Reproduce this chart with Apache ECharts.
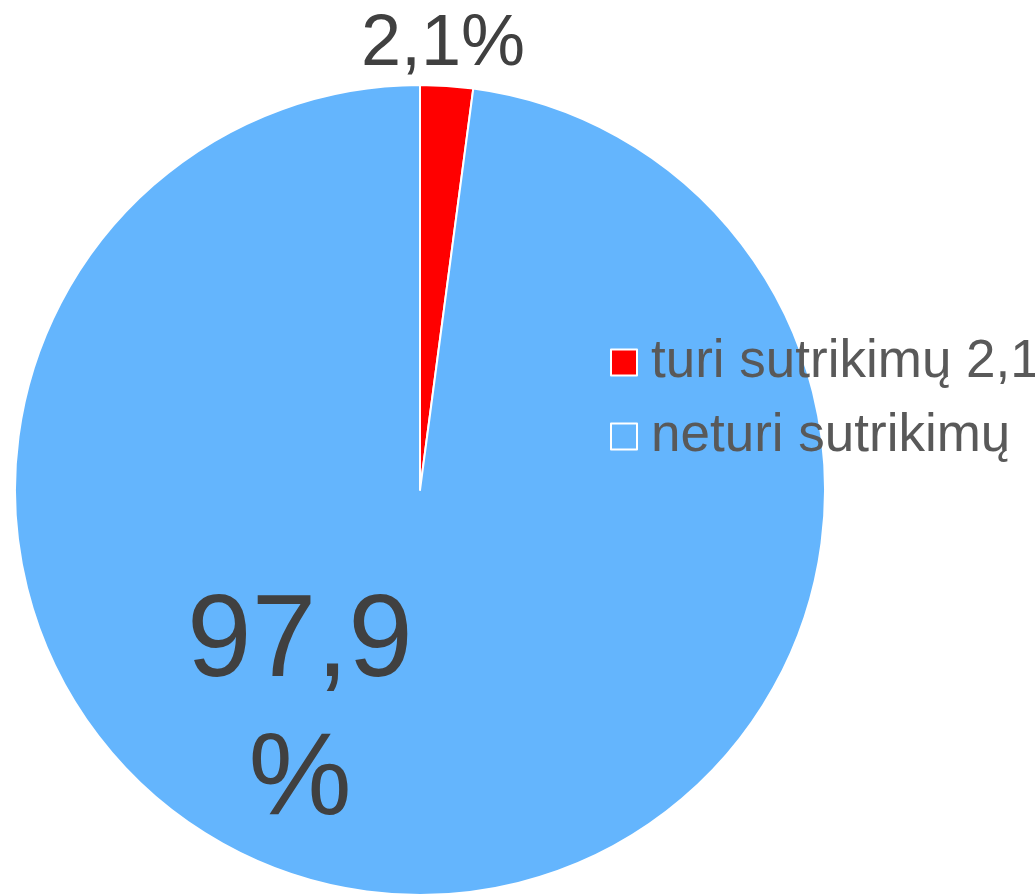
<!DOCTYPE html>
<html><head><meta charset="utf-8">
<script src="https://cdn.jsdelivr.net/npm/echarts@6/dist/echarts.min.js"></script>
<style>html,body{margin:0;padding:0;background:#fff;}#c{width:1035px;height:895px;}</style>
</head><body><div id="c"></div>
<script>
const categories = ["turi sutrikimų 2,1%", "neturi sutrikimų"];
const values = [2.1, 97.9];
const labelTexts = ["2,1%", "97,9\n%"];
const colors = ["#FF0000", "#64B5FD"];

const chart = echarts.init(document.getElementById('c'), null, {renderer: 'canvas'});
const FONT = '"Liberation Sans", Arial, sans-serif';
chart.setOption({
  animation: false,
  backgroundColor: '#ffffff',
  legend: {
    orient: 'vertical',
    left: 605, top: 331,
    itemWidth: 26, itemHeight: 26,
    itemGap: 21,
    icon: 'rect',
    selectedMode: false,
    textStyle: {fontFamily: FONT, fontSize: 53, color: '#595959', lineHeight: 52, padding: [0,0,0,9]},
    data: categories
  },
  series: [{
    type: 'pie',
    center: [420, 490],
    radius: 405,
    startAngle: 90,
    clockwise: true,
    itemStyle: {borderColor: '#ffffff', borderWidth: 2},
    labelLine: {show: false, length: 0, length2: 0},
    data: categories.map((n, i) => ({
      name: n, value: values[i],
      itemStyle: {color: colors[i]},
      label: i === 0 ? {
        show: true, position: 'outside', formatter: labelTexts[i],
        fontFamily: FONT, fontSize: 72, color: '#404040'
      } : {
        show: true, position: 'inner', formatter: labelTexts[i],
        fontFamily: FONT, fontSize: 116, lineHeight: 138, color: '#404040', align: 'center'
      }
    })),
    labelLayout: function (p) {
      if (p.dataIndex === 0) {
        return {x: 443, y: 45, align: 'center', verticalAlign: 'middle'};
      }
      return {x: 300, y: 713, align: 'center', verticalAlign: 'middle'};
    }
  }]
});
</script></body></html>
